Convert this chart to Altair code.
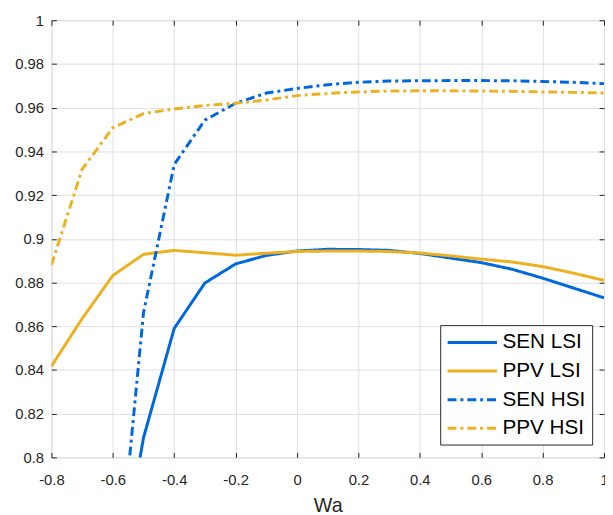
import altair as alt
import pandas as pd

x_all = [-0.8, -0.7, -0.6, -0.5, -0.4, -0.3, -0.2, -0.1, 0.0, 0.1, 0.2, 0.3, 0.4, 0.5, 0.6, 0.7, 0.8, 0.9, 1.0]
x_sen = x_all[2:]

sen_lsi = [0.729, 0.809, 0.859, 0.8798, 0.8885, 0.8924, 0.8944, 0.8952, 0.8951, 0.8947, 0.8933, 0.8912, 0.8891, 0.8861, 0.8820, 0.8775, 0.8730]
ppv_lsi = [0.8417, 0.8635, 0.8832, 0.8929, 0.8947, 0.8936, 0.8925, 0.8934, 0.8942, 0.8944, 0.8944, 0.8942, 0.8935, 0.8922, 0.8907, 0.8894, 0.8873, 0.8843, 0.8810]
sen_hsi = [0.720, 0.8662, 0.9340, 0.9543, 0.9620, 0.9667, 0.9688, 0.9705, 0.9716, 0.9722, 0.9723, 0.9724, 0.9724, 0.9723, 0.9720, 0.9716, 0.9710]
ppv_hsi = [0.8880, 0.9318, 0.9508, 0.9573, 0.9594, 0.9610, 0.9620, 0.9635, 0.9655, 0.9665, 0.9672, 0.9676, 0.9677, 0.9677, 0.9676, 0.9675, 0.9672, 0.9670, 0.9667]

series = ["SEN LSI", "PPV LSI", "SEN HSI", "PPV HSI"]
colors = ["#0068DF", "#EDB120", "#0068DF", "#EDB120"]
dashes = [[1, 0], [1, 0], [9, 4, 3, 4], [9, 4, 3, 4]]

x_ticks = [-0.8, -0.6, -0.4, -0.2, 0, 0.2, 0.4, 0.6, 0.8, 1]
y_ticks = [0.8, 0.82, 0.84, 0.86, 0.88, 0.9, 0.92, 0.94, 0.96, 0.98, 1]

rows = []
for name, xs, ys in [("SEN LSI", x_sen, sen_lsi), ("PPV LSI", x_all, ppv_lsi),
                     ("SEN HSI", x_sen, sen_hsi), ("PPV HSI", x_all, ppv_hsi)]:
    for xv, yv in zip(xs, ys):
        rows.append({"Wa": xv, "value": yv, "series": name})
df = pd.DataFrame(rows)

FONT = "Liberation Sans"
TXT = "#262626"

xscale = alt.Scale(domain=[-0.8, 1], nice=False, zero=False)
yscale = alt.Scale(domain=[0.8, 1], nice=False, zero=False)

inward = {"expr": "-5"}
plain = "'' + datum.value"

lines = alt.Chart(df).mark_line(strokeWidth=3, clip=True).encode(
    x=alt.X("Wa:Q", scale=xscale, title="Wa",
            axis=alt.Axis(orient="bottom", values=x_ticks, labelExpr=plain, grid=True,
                          gridColor="#e0e0e0", domain=False, ticks=True, tickSize=inward,
                          tickColor=TXT, labelPadding=20, labelFontSize=15, labelFont=FONT,
                          labelColor=TXT, titleFont=FONT, titleFontSize=20,
                          titleFontWeight="normal", titleColor=TXT, titlePadding=9,
                          labelFlush=False)),
    y=alt.Y("value:Q", scale=yscale, title=None,
            axis=alt.Axis(orient="left", values=y_ticks, labelExpr=plain, grid=True,
                          gridColor="#e0e0e0", domain=False, ticks=True, tickSize=inward,
                          tickColor=TXT, labelPadding=13, labelFontSize=15, labelFont=FONT,
                          labelColor=TXT, labelFlush=False)),
    color=alt.Color("series:N", scale=alt.Scale(domain=series, range=colors),
                    sort=series,
                    legend=alt.Legend(title=None, orient="none", legendX=394, legendY=309,
                                      direction="vertical", symbolType="M-1,0H4",
                                      symbolSize=400, symbolStrokeWidth=3, symbolOffset=0,
                                      labelOffset=34, labelFontSize=21, labelFont=FONT,
                                      labelColor="#000000", rowPadding=7, padding=6,
                                      strokeColor=TXT, fillColor="#ffffff", cornerRadius=0)),
    strokeDash=alt.StrokeDash("series:N", scale=alt.Scale(domain=series, range=dashes),
                              sort=series, legend=None),
    order=alt.Order("Wa:Q"),
)

frame = alt.Chart(df).mark_line(opacity=0).encode(
    x=alt.X("Wa:Q", scale=xscale, title=None,
            axis=alt.Axis(orient="top", values=x_ticks, grid=False, domain=False,
                          labels=False, tickSize=inward, tickColor=TXT)),
    y=alt.Y("value:Q", scale=yscale, title=None,
            axis=alt.Axis(orient="right", values=y_ticks, grid=False, domain=False,
                          labels=False, tickSize=inward, tickColor=TXT)),
    detail="series:N",
)

chart = alt.layer(lines, frame).resolve_axis(x="independent", y="independent").properties(
    width=560, height=443,
    autosize=alt.AutoSizeParams(type="none"),
    padding={"left": 44, "top": 9, "right": 1, "bottom": 55},
).configure_view(stroke=TXT, strokeWidth=1).configure(background="#ffffff")

chart.save("out.html", embed_options={"renderer": "svg", "actions": False})
